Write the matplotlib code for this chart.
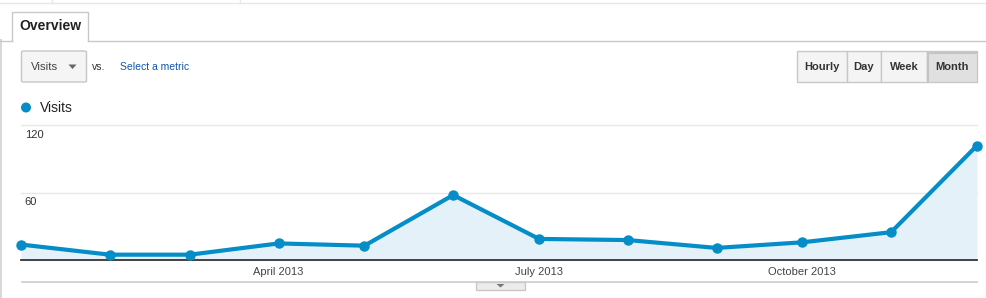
import matplotlib
matplotlib.use("Agg")
import matplotlib.pyplot as plt
from matplotlib.patches import Rectangle, FancyBboxPatch, Polygon, Ellipse
from matplotlib.lines import Line2D
import datetime as dt

# ---- data ----
months = ["2013-01-01", "2013-02-01", "2013-03-01", "2013-04-01", "2013-05-01", "2013-06-01",
          "2013-07-01", "2013-08-01", "2013-09-01", "2013-10-01", "2013-11-01", "2013-12-01"]
visits = [14, 5, 5, 15, 13, 58, 19, 18, 11, 16, 25, 102]
y_ticks = [60, 120]
x_tick_dates = ["2013-04-01", "2013-07-01", "2013-10-01"]
x_tick_labels = ["April 2013", "July 2013", "October 2013"]
buttons = ["Hourly", "Day", "Week", "Month"]
active_button = "Month"
metric = "Visits"

plt.rcParams['font.family'] = ['Liberation Sans', 'DejaVu Sans']

W, H = 987, 298
fig = plt.figure(figsize=(W / 100, H / 100), dpi=100)
fig.patch.set_facecolor("white")

def fx(x):
    return x / W

def fy(y):
    return 1 - y / H

def frect(x0, y0, x1, y1, **kw):
    r = Rectangle((fx(x0), fy(y1)), fx(x1 - x0), (y1 - y0) / H, transform=fig.transFigure, **kw)
    fig.add_artist(r)
    return r

def fline(xs, ys, **kw):
    fig.add_artist(Line2D([fx(x) for x in xs], [fy(y) for y in ys], transform=fig.transFigure, **kw))

def ftext(x, y, s, **kw):
    fig.text(fx(x), fy(y), s, **kw)

# ---- top chrome ----
fline([0, W], [3, 3], color="#e8e8e8", lw=1)
fline([52, 52], [0, 3], color="#e8e8e8", lw=1)
fline([240, 240], [0, 3], color="#e8e8e8", lw=1)
fline([0.5, 0.5], [40, H], color="#d8d8d8", lw=1.5)
fline([0, 12], [40.5, 40.5], color="#c8c8c8", lw=1)
fline([88, W], [40.5, 40.5], color="#c8c8c8", lw=1)
# Overview tab
frect(12, 11.5, 88, 41, facecolor="white", edgecolor="none")
fline([12, 12, 88, 88], [41, 11.5, 11.5, 41], color="#c8c8c8", lw=1)
ftext(50, 26, "Overview", ha="center", va="center", fontsize=10, color="#222222", fontweight="bold")

# Metric dropdown
box = FancyBboxPatch((fx(21.5), fy(82)), fx(65), 31 / H, boxstyle="round,pad=0,rounding_size=0.003",
                     transform=fig.transFigure, facecolor="#f5f5f5", edgecolor="#c6c6c6", lw=1)
fig.add_artist(box)
ftext(45, 67, metric, ha="center", va="center", fontsize=8.2, color="#444444")
fig.add_artist(Polygon([(fx(68.5), fy(64.5)), (fx(76.5), fy(64.5)), (fx(72.5), fy(69))],
                       closed=True, transform=fig.transFigure, facecolor="#666666", edgecolor="none"))
ftext(92, 66.5, "vs.", ha="left", va="center", fontsize=7.5, color="#333333")
ftext(120, 67, "Select a metric", ha="left", va="center", fontsize=7.5, color="#1155aa")

# Period buttons
edges = [797, 847, 881, 927, 977]
for i, b in enumerate(buttons):
    x0, x1 = edges[i], edges[i + 1]
    active = (b == active_button)
    frect(x0, 51.5, x1, 82, facecolor="#e0e0e0" if active else "#f4f4f4", edgecolor="#c8c8c8", lw=1)
    if active:
        fline([x0 + 1.5, x0 + 1.5, x1 - 1], [81, 53, 53], color="#c4c4c4", lw=1.5)
    ftext((x0 + x1) / 2, 67, b, ha="center", va="center", fontsize=8, color="#333333", fontweight="bold")

# Legend
fig.add_artist(Ellipse((fx(26), fy(107.5)), 10 / W, 10 / H, transform=fig.transFigure,
                       facecolor="#058dc7", edgecolor="none"))
ftext(40, 107.5, metric, ha="left", va="center", fontsize=10, color="#222222")

# ---- chart ----
x_left, x_right = 21, 977
y_top, y_base = 125.3, 260.3
ax = fig.add_axes([fx(x_left), fy(y_base), (x_right - x_left) / W, (y_base - y_top) / H])
dates = [dt.datetime.strptime(m, "%Y-%m-%d") for m in months]
ax.set_xlim(dates[0], dates[-1])
ax.set_ylim(0, 120)
ax.set_facecolor("none")
for s in ["top", "right", "left"]:
    ax.spines[s].set_visible(False)
ax.spines["bottom"].set_color("#333333")
ax.spines["bottom"].set_linewidth(1.3)
for t in y_ticks:
    ax.axhline(t, color="#e8e8e8", lw=1, zorder=0, clip_on=False)
    ax.text(0.004, t - 4, str(t), transform=ax.get_yaxis_transform(), ha="left", va="top",
            fontsize=8, color="#333333")
ax.set_yticks([])
ax.fill_between(dates, visits, 0, color="#e4f1f8", zorder=1, lw=0)
ax.plot(dates, visits, color="#058dc7", lw=3, marker="o", markersize=6.5, clip_on=False, zorder=3)
ax.set_xticks([dt.datetime.strptime(d, "%Y-%m-%d") for d in x_tick_dates])
ax.set_xticklabels(x_tick_labels, fontsize=8, color="#444444")
ax.tick_params(axis="x", length=0, pad=5)

# Bottom rule and expander tab
fline([22, 977], [282, 282], color="#cccccc", lw=1.2)
frect(476, 282, 525, 289.5, facecolor="#ececec", edgecolor="#c8c8c8", lw=1)
fig.add_artist(Polygon([(fx(496.5), fy(284)), (fx(504.5), fy(284)), (fx(500.5), fy(287.5))],
                       closed=True, transform=fig.transFigure, facecolor="#777777", edgecolor="none"))

fig.savefig("out.png", dpi=100, facecolor="white")
